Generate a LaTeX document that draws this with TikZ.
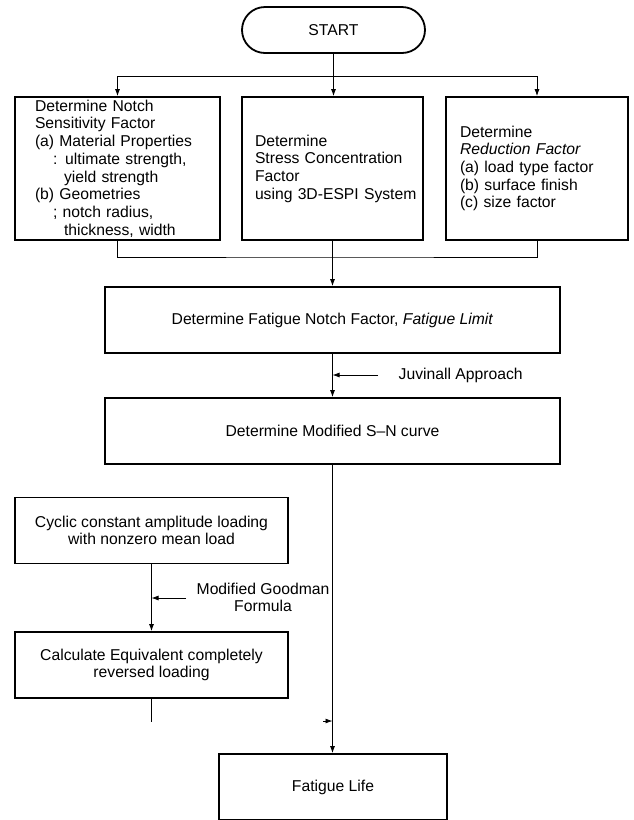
\documentclass[tikz,border=0pt]{standalone}
\usepackage{fontspec}
\setmainfont{Liberation Sans}
\usetikzlibrary{arrows.meta}

\begin{document}
\begin{tikzpicture}[x=1pt,y=-1pt,line width=0.8pt,
		font=\fontsize{15.7}{17.7}\selectfont,
		box/.style={draw, line width=1.8pt, minimum height=66pt, inner sep=0pt, align=center},
		tallbox/.style={box, minimum height=143pt, align=left},
		pill/.style={draw, line width=1.8pt, rounded corners=23pt, minimum width=183pt, minimum height=46pt},
		arr/.style={-{Latex[length=7pt,width=5pt]}}]
				\useasboundingbox (0,0) rectangle (633,820);
				\node [pill] (start) at (333.5,30) {START};
				\node [tallbox, inner xsep=20pt, text width=165pt] (sens) at (117.5,168.5) {Determine Notch\\Sensitivity Factor\\(a) Material Properties\\\hspace*{18pt}: ultimate strength,\\\hspace*{29pt}yield strength\\(b) Geometries\\\hspace*{18pt}; notch radius,\\\hspace*{29pt}thickness, width};
				\node [tallbox, inner xsep=13pt, text width=155pt] (scf) at (332.5,168.5) {Determine\\Stress Concentration\\Factor\\\mbox{using 3D-ESPI System}};
				\node [tallbox, inner xsep=14pt, text width=154pt] (red) at (537,168.5) {Determine\\\textit{Reduction Factor}\\(a) load type factor\\(b) surface finish\\(c) size factor};
				\node [box, minimum width=455pt] (notch) at (332.5,320) {Determine Fatigue Notch Factor, \textit{Fatigue Limit}};
				\node [box, minimum width=455pt] (sn) at (332.5,431) {Determine Modified S--N curve};
				\node [box, minimum width=273pt] (cyc) at (151.5,530.5) {Cyclic constant amplitude loading\\with nonzero mean load};
				\node [box, minimum width=273pt] (calc) at (151.5,665) {Calculate Equivalent completely\\reversed loading};
				\node [box, minimum width=228pt] (life) at (333,787) {Fatigue Life};
				\node [anchor=west] (juv) at (395,375) {Juvinall Approach};
				\node [align=center] (good) at (263,597.5) {Modified Goodman\\Formula};
				\coordinate (brL) at (117.5,76);
				\coordinate (brR) at (537,76);
				\coordinate (mrg) at (332.5,257);
				\coordinate (jv) at (378,375);
				\coordinate (gm) at (186,598);
				\coordinate (stub) at (151.5,722);
				\coordinate (tip) at (323,721);
				\draw (brL) -- (brR);
				\draw [arr] (start.south) -- (start.south |- scf.north);
				\draw [arr] (brL) -- (sens);
				\draw [arr] (brR) -- (red);
				\draw (sens) |- (mrg) -| (red);
				\draw [arr] (scf) -- (notch);
				\draw [arr] (notch) -- (sn);
				\draw [arr] (jv) -- (jv -| notch.south);
				\draw [arr] (sn.south) -- (sn.south |- life.north);
				\draw [arr] (cyc) -- (calc);
				\draw [arr] (gm) -- (gm -| cyc.south);
				\draw (calc) -- (stub);
				\draw [arr] (tip) -- (tip -| sn.south);
			\end{tikzpicture}
\end{document}
